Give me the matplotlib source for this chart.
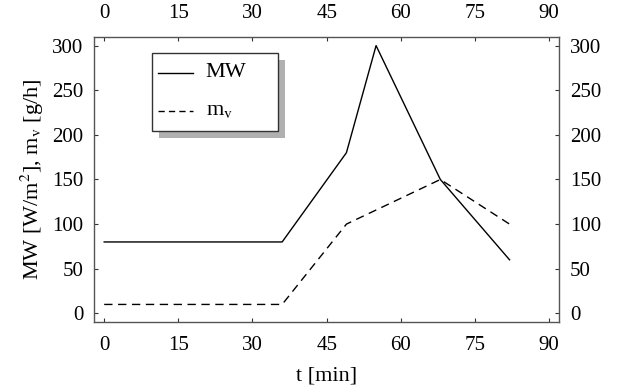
import numpy as np
import matplotlib
matplotlib.use("Agg")
import matplotlib.pyplot as plt
from matplotlib.patches import Rectangle

# values
t_mw = [0, 36, 49, 55, 68, 82]
mw = [80, 80, 180, 300, 150, 60]
t_mv = [0, 36, 49, 68, 82]
mv = [10, 10, 100, 150, 100]
xticks = [0, 15, 30, 45, 60, 75, 90]
yticks = [0, 50, 100, 150, 200, 250, 300]

plt.rcParams['font.family'] = ['Liberation Serif', 'DejaVu Serif']
plt.rcParams['mathtext.fontset'] = 'stix'
fs = 15

fig = plt.figure(figsize=(6.22, 3.89), dpi=100)
ax = fig.add_axes([0.1516, 0.1715, 0.7471, 0.7342])

l1, = ax.plot(t_mw, mw, color='black', lw=1.0)
l2, = ax.plot(t_mv, mv, color='black', lw=1.0, dashes=(6, 4))

ax.set_xlim(-2, 92)
ax.set_ylim(-10, 310)
ax.set_xticks(xticks)
ax.set_yticks(yticks)
ax.tick_params(direction='in', length=3, width=0.8, labelsize=fs, pad=8,
               top=True, right=True, labeltop=True, labelright=True, colors='#333333',
               labelcolor='black')
ax.tick_params(axis='x', which='both', bottom=True, pad=10)
for s in ax.spines.values():
    s.set_color('#555555')
    s.set_linewidth(1.0)

ax.set_xlabel('t [min]', fontsize=16, labelpad=8)
ax.set_ylabel(r'MW [W/m$^2$], m$_\mathrm{v}$ [g/h]', fontsize=16, labelpad=4)

# legend box drawn by hand (MATLAB-style, with shadow)
T = ax.transAxes
ax.add_patch(Rectangle((0.1388, 0.646), 0.271, 0.273, transform=T, facecolor='#b0b0b0',
                       edgecolor='none', zorder=5, clip_on=False))
ax.add_patch(Rectangle((0.1235, 0.671), 0.2712, 0.273, transform=T, facecolor='white',
                       edgecolor='#333333', lw=1.0, zorder=6, clip_on=False))
ax.plot([0.1371, 0.2124], [0.8729, 0.8729], transform=T, color='black', lw=1.0, zorder=7)
ax.plot([0.1371, 0.2124], [0.7409, 0.7409], transform=T, color='black', lw=1.0,
        dashes=(4.5, 3), zorder=7)
ax.text(0.2397, 0.8729, 'MW', transform=T, fontsize=16, va='center', ha='left', zorder=8)
ax.text(0.2397, 0.7409, r'm$_\mathrm{v}$', transform=T, fontsize=16, va='center', ha='left',
        zorder=8)

fig.savefig('out.png', dpi=100)
